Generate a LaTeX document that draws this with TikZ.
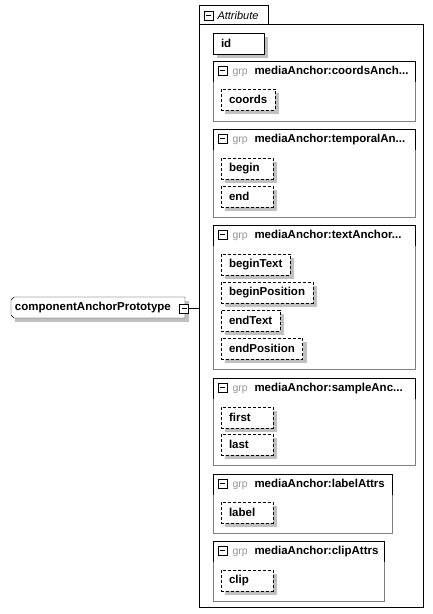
\documentclass[tikz,border=0pt]{standalone}
\usepackage{fontspec}
\setmainfont{Liberation Sans}
\usepackage{tikz}
\usetikzlibrary{shadows, positioning, backgrounds}

\definecolor{shadowgray}{RGB}{192,192,192}
\definecolor{framegray}{RGB}{128,128,128}
\definecolor{grpgray}{RGB}{150,150,150}

\newcommand{\cutmark}{...}

\tikzset{
    elemfont/.style={font=\fontsize{11.5}{13}\selectfont\bfseries},
    boxshadow/.style={drop shadow={shadow xshift=4pt,shadow yshift=-4pt,fill=shadowgray,opacity=1}},
    attrbox/.style={draw,solid,fill=white,anchor=north west,minimum height=21pt,inner xsep=8pt,inner ysep=0pt,outer sep=0pt,align=left,elemfont,boxshadow},
    optattr/.style={dash pattern=on 3pt off 2pt},
    shortattr/.style={text width=36pt},
    minusbox/.style={draw,solid,fill=white,minimum size=9pt,inner sep=0pt,path picture={\draw ([xshift=2pt]path picture bounding box.west) -- ([xshift=-2pt]path picture bounding box.east);}},
    grptag/.style={anchor=base west,inner sep=0pt,text=grpgray,font=\fontsize{10.5}{12}\selectfont},
    grptitle/.style={anchor=base west,inner sep=0pt,elemfont},
}

\begin{document}
\begin{tikzpicture}[x=1pt,y=-1pt,line width=1pt]
    \useasboundingbox (0,0) rectangle (433,614);

    % element
    \node[elemfont,anchor=north west,minimum height=21pt,text width=166pt,inner xsep=4pt,inner ysep=0pt,outer sep=0pt,align=left] (comp) at (11,297) {componentAnchorPrototype};
    \begin{scope}[on background layer]
        \fill[shadowgray] ([xshift=4pt,yshift=-4pt]comp.north west) rectangle ([xshift=4pt,yshift=-4pt]comp.south east);
        \draw[fill=white] ([xshift=3pt]comp.north west) -- (comp.north east) -- (comp.south east) -- ([xshift=3pt]comp.south west) -- ([yshift=3pt]comp.south west) -- ([yshift=-3pt]comp.north west) -- cycle;
    \end{scope}
    \node[minusbox] (compminus) at (184,308.5) {};

    % attribute container
    \node[draw,anchor=north west,minimum width=224pt,minimum height=583pt,inner sep=0pt,outer sep=0pt] (attr) at (199,24) {};
    \draw (attr.north west) |- (268,5) -- (268,24);
    \node[minusbox] (attrminus) at (208.5,15.5) {};
    \node[anchor=base west,inner sep=0pt,font=\fontsize{11}{13}\selectfont\itshape] (attrtitle) at (217,19) {Attribute};
    \draw (compminus.east) -- (compminus.east -| attr.west);

    \node[attrbox,text width=35pt] (id) at (213,33) {id};

    % groups
    \foreach \n/\top/\bot/\right/\title in {1/61/121/415/coordsAnch\cutmark,2/129/217/415/temporalAn\cutmark,3/225/369/415/textAnchor\cutmark,4/378/465/415/sampleAnc\cutmark,5/474/533/392/labelAttrs,6/541/601/384/clipAttrs}{
        \draw[framegray] (213,\top) rectangle (\right,\bot);
        \draw (213,\top+21) |- (\right,\top) -- (\right,\top+21);
        \node[minusbox] (grpminus\n) at (222.5,\top+9.5) {};
        \node[grptag] (grptag\n) at (232,\top+13.5) {grp};
        \node[grptitle] (grptitle\n) at (254,\top+13.5) {mediaAnchor:\title};
    }

    % attributes of the groups
    \node[attrbox,optattr] (coords) at (221,89) {coords};
    \node[attrbox,optattr,shortattr] (begintime) at (221,158) {begin};
    \node[attrbox,optattr,shortattr] (endtime) at (221,186) {end};
    \node[attrbox,optattr] (begintext) at (221,254) {beginText};
    \node[attrbox,optattr] (beginpos) at (221,282) {beginPosition};
    \node[attrbox,optattr] (endtext) at (221,310) {endText};
    \node[attrbox,optattr] (endpos) at (221,338) {endPosition};
    \node[attrbox,optattr,shortattr] (first) at (221,407) {first};
    \node[attrbox,optattr,shortattr] (last) at (221,434) {last};
    \node[attrbox,optattr,shortattr] (label) at (221,502) {label};
    \node[attrbox,optattr,shortattr] (clip) at (221,570) {clip};
\end{tikzpicture}
\end{document}
